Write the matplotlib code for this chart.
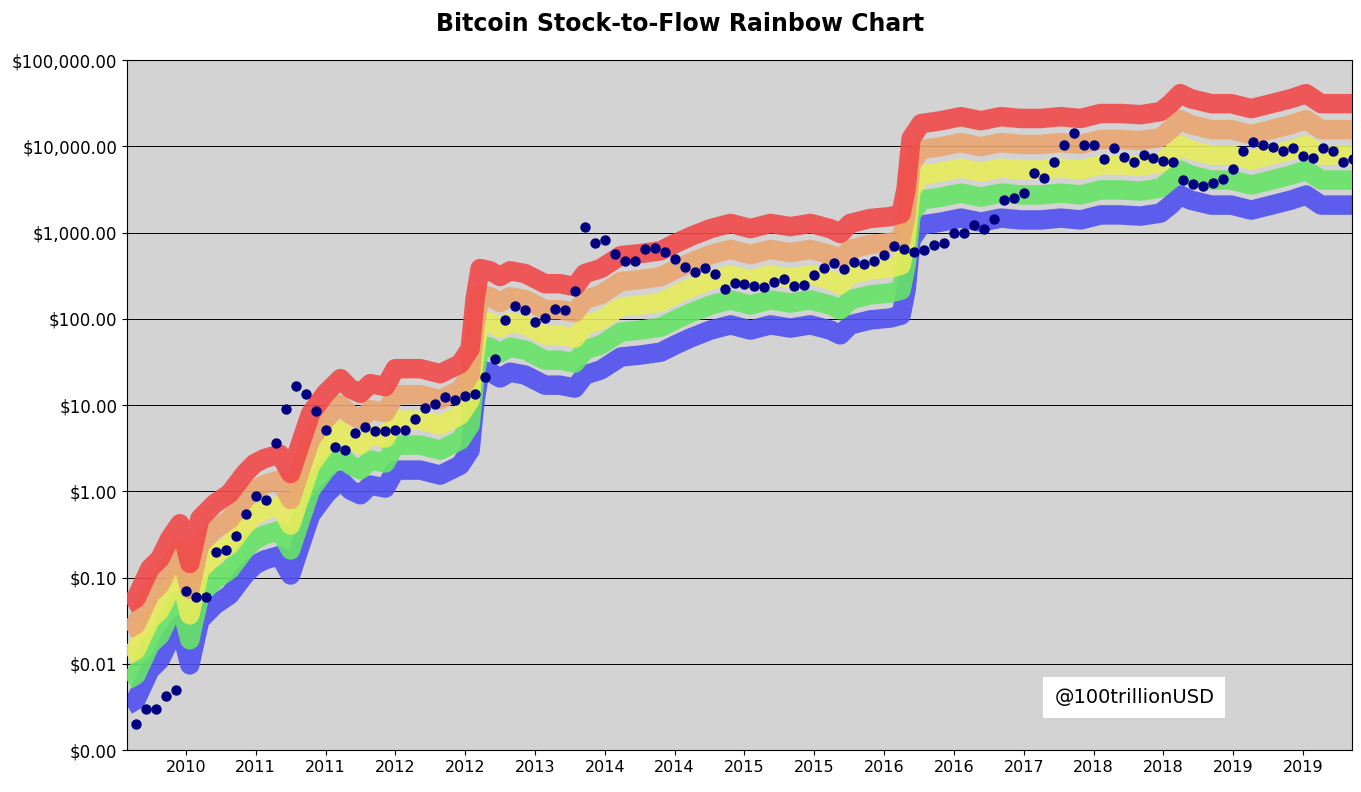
import matplotlib
matplotlib.use("Agg")
import matplotlib.pyplot as plt
import numpy as np

# monthly closing prices (USD), month index 0..122
prices = [0.002,0.003,0.003,0.0042,0.005,0.07,0.06,0.06,0.2,0.21,0.3,0.54,0.88,0.8,3.6,9,16.6,13.6,8.5,5.2,
          3.3,3.0,4.8,5.6,5.0,5.0,5.1,5.2,6.8,9.2,10.4,12.5,11.3,12.8,13.5,21,33.8,97,140,127,
          92,101,130,127,210,1160,760,810,565,470,470,640,660,590,490,400,350,390,330,220,
          260,255,240,235,270,290,240,245,320,390,440,380,450,430,470,550,700,640,590,620,
          720,760,990,990,1220,1090,1440,2380,2500,2900,4900,4300,6600,10300,14100,10300,10400,7100,9500,7500,
          6600,7900,7300,6700,6600,4100,3700,3500,3800,4200,5500,8700,11200,10300,9800,8700,9500,7700,7300,9500,
          8700,6600,7100]

# lowest (blue) band of the rainbow, sampled at month indices
band_t = [-0.9,0,1.4,2.4,3.4,4.4,5.4,6.4,7.9,9.4,10.9,11.9,12.9,14.4,15.5,16.5,17.5,19,20.5,21.5,
          22.5,23.5,25,26,28.5,30.5,32.5,33.5,34,34.5,35.5,36.5,37.5,39,41,42.5,44,45,46.6,48.6,
          50.6,52.6,54.1,55.6,57.6,59.6,61.6,63.6,65.6,67.6,69.6,70.6,71.6,73.6,75.6,76.7,77.2,77.7,78.7,80.7,
          82.7,84.7,86.7,88.7,90.7,92.7,94.7,96.7,98.7,100.7,102.7,103.7,104.7,105.7,107.8,109.8,111.8,113.8,115.8,117.3,
          118.8,120.8,122]
band_blue = [0.0033,0.0038,0.0085,0.011,0.019,0.028,0.0097,0.032,0.048,0.063,0.107,0.14,0.16,0.18,0.107,0.24,0.53,0.91,1.35,1.03,
             0.91,1.18,1.09,1.76,1.76,1.54,2.0,3.0,11.4,25.5,24,20.6,24,22.3,17,17,15.7,22.3,25.5,36,
             38,41,50,60,74,85,74,85,78,85,74,65,85,97,102,110,215,820,1220,1320,
             1470,1320,1470,1400,1400,1470,1400,1600,1600,1550,1680,2080,2720,2380,2080,2080,1820,2080,2380,2720,
             2080,2080,2080]
band_mult = [1, 1.95, 3.8, 7.5, 15]
band_colors = ["#4f4ff0", "#66e466", "#e6ec5c", "#eaa670", "#f04a4a"]

xtick_pos = [5,12,19,26,33,40,47,54,61,68,75,82,89,96,103,110,117]
xtick_labels = ["2010","2011","2011","2012","2012","2013","2014","2014","2015","2015",
                "2016","2016","2017","2018","2018","2019","2019"]
ytick_vals = [0.001,0.01,0.1,1,10,100,1000,10000,100000]
ytick_labels = ["$0.00","$0.01","$0.10","$1.00","$10.00","$100.00","$1,000.00","$10,000.00","$100,000.00"]

fig = plt.figure(figsize=(13.61,7.92), dpi=100)
ax = fig.add_axes([0.0933,0.053,0.9001,0.8712])
ax.set_facecolor("#d3d3d3")
ax.set_yscale("log")
ax.set_ylim(0.001,100000)
ax.set_xlim(-0.9,121.9)
for m in ytick_vals:
    ax.axhline(m, color="black", lw=0.7, zorder=1)
bt = np.array(band_t); bb = np.array(band_blue)
for k,(mult,c) in enumerate(zip(band_mult, band_colors)):
    ax.plot(bt, bb*mult, color=c, lw=14, alpha=0.9, solid_capstyle="butt", solid_joinstyle="round", zorder=2+k)
ax.scatter(np.arange(len(prices)), prices, s=42, color="#000080", zorder=10)
ax.set_yticks(ytick_vals)
ax.set_yticklabels(ytick_labels, fontsize=12)
ax.yaxis.set_minor_locator(matplotlib.ticker.NullLocator())
ax.set_xticks(xtick_pos)
ax.set_xticklabels(xtick_labels, fontsize=11.5)
fig.suptitle("Bitcoin Stock-to-Flow Rainbow Chart", fontsize=17, fontweight="bold", y=0.985)
ax.text(0.757, 0.068, "@100trillionUSD", transform=ax.transAxes, fontsize=14, zorder=20,
        bbox=dict(facecolor="white", edgecolor="none", pad=8))
fig.savefig("out.png", dpi=100)
